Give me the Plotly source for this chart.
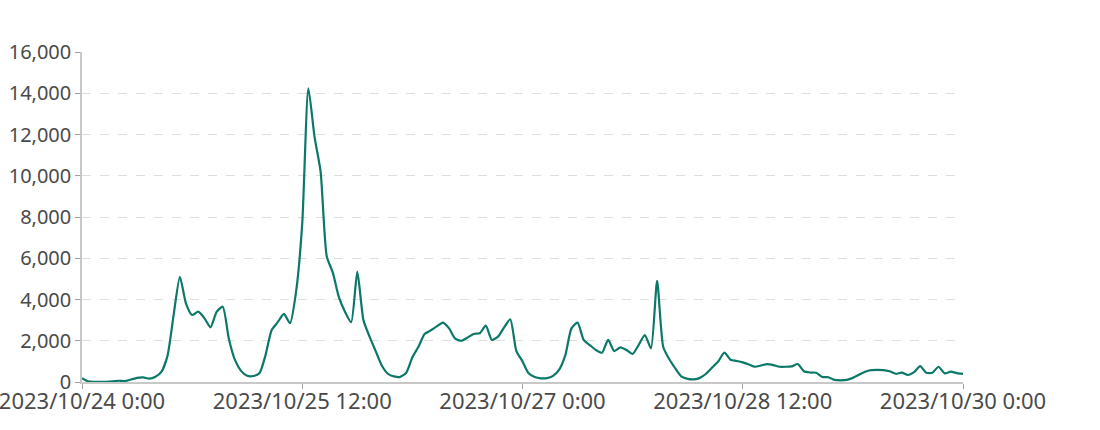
import pandas as pd
import plotly.graph_objects as go

start_time = "2023-10-24 00:00"
hourly_values = [
    180, 30, 10, 10, 10, 30, 60, 40, 120, 200,
    220, 160, 250, 500, 1300, 3300, 5100, 3800, 3250, 3410,
    3100, 2650, 3400, 3650, 2100, 1070, 540, 300, 290, 420,
    1300, 2520, 2900, 3300, 2850, 4400, 7700, 14240, 11900, 10200,
    6100, 5300, 4100, 3400, 2900, 5350, 3000, 2200, 1500, 800,
    400, 270, 250, 450, 1200, 1710, 2330, 2500, 2700, 2880,
    2600, 2100, 2000, 2150, 2330, 2360, 2730, 2040, 2200, 2650,
    3040, 1500, 1000, 420, 240, 180, 190, 300, 600, 1300,
    2600, 2880, 2040, 1790, 1550, 1420, 2040, 1500, 1680, 1550,
    1360, 1800, 2280, 1630, 4910, 1700, 1100, 650, 260, 150,
    130, 200, 400, 700, 1000, 1420, 1080, 1020, 950, 850,
    740, 800, 870, 820, 740, 740, 760, 870, 520, 460,
    450, 240, 230, 100, 80, 100, 200, 350, 500, 580,
    590, 580, 520, 400, 450, 340, 480, 770, 450, 450,
    740, 420, 500, 430, 390,
]
x_tick_values = ["2023-10-24 00:00", "2023-10-25 12:00", "2023-10-27 00:00",
                 "2023-10-28 12:00", "2023-10-30 00:00"]
x_tick_labels = ["2023/10/24 0:00", "2023/10/25 12:00", "2023/10/27 0:00",
                 "2023/10/28 12:00", "2023/10/30 0:00"]
y_tick_values = [0, 2000, 4000, 6000, 8000, 10000, 12000, 14000, 16000]

times = pd.date_range(start_time, periods=len(hourly_values), freq="h")

fig = go.Figure()
fig.add_trace(go.Scatter(
    x=times, y=hourly_values, mode="lines",
    line=dict(color="#0b7868", width=2.2, shape="spline", smoothing=0.6),
    hoverinfo="skip", showlegend=False,
))

font = dict(family="Noto Sans, sans-serif", size=20, color="#4a4a4a")
xfont = dict(family="Noto Sans, sans-serif", size=22, color="#4a4a4a")
fig.update_layout(
    width=1100, height=430,
    margin=dict(l=82, r=137, t=52, b=48),
    paper_bgcolor="white", plot_bgcolor="white",
    font=font,
    xaxis=dict(
        range=[x_tick_values[0], x_tick_values[-1]], automargin=False,
        tickmode="array", tickvals=x_tick_values, ticktext=x_tick_labels,
        ticklabeloverflow="allow", ticklabelstandoff=-6,
        showgrid=False, showline=True, linecolor="#c8c8c8", linewidth=1.5,
        ticks="outside", ticklen=5, tickcolor="#a0a0a0", tickwidth=1,
        zeroline=False, tickfont=xfont,
    ),
    yaxis=dict(
        range=[0, 16000], tickmode="array", tickvals=y_tick_values,
        automargin=False,
        tickformat=",", showgrid=True, gridcolor="#dedede", griddash="dash",
        gridwidth=1, showline=True, linecolor="#c8c8c8", linewidth=1.5,
        ticks="outside", ticklen=5, tickcolor="#a0a0a0", tickwidth=1,
        zeroline=False, tickfont=font,
    ),
)

fig.write_html("out.html", config={"displayModeBar": False},
               post_script="document.body.style.margin='0';")
